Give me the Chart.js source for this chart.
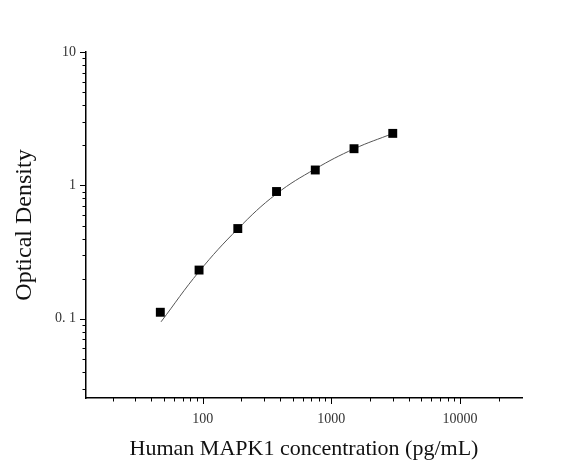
<!DOCTYPE html>
<html>
<head>
<meta charset="utf-8">
<script src="https://cdn.jsdelivr.net/npm/chart.js@4/dist/chart.umd.min.js"></script>
<style>
  html, body { margin: 0; padding: 0; background: #fff; }
  #wrap { width: 578px; height: 468px; }
</style>
</head>
<body>
<div id="wrap"><canvas id="curva"></canvas></div>
<script>
// Data standar
const concentrations = [46.875, 93.75, 187.5, 375, 750, 1500, 3000];
const odValues = [0.112, 0.232, 0.475, 0.90, 1.305, 1.884, 2.455];

// Kurva hasil fit
const fitX = [47.5, 93.75, 187.5, 375, 750, 1500, 3000];
const fitY = [0.095, 0.226, 0.472, 0.865, 1.33, 1.88, 2.45];

// Tick
const xTicks = [20, 30, 40, 50, 60, 70, 80, 90, 100, 200, 300, 400, 500, 600, 700, 800, 900,
    1000, 2000, 3000, 4000, 5000, 6000, 7000, 8000, 9000, 10000, 20000];
const xMajor = [100, 1000, 10000];
const xMajorLabels = ['100', '1000', '10000'];
const yTicks = [0.03, 0.04, 0.05, 0.06, 0.07, 0.08, 0.09, 0.1, 0.2, 0.3, 0.4, 0.5, 0.6, 0.7, 0.8, 0.9,
    1, 2, 3, 4, 5, 6, 7, 8, 9, 10];
const yMajor = [0.1, 1, 10];
const yMajorLabels = ['0. 1', '1', '10'];

const serif = '"Liberation Serif", "Times New Roman", serif';

// Gambar tanda tick keluar (mayor lebih panjang)
const tickMarks = {
    id: 'tickMarks',
    afterDraw(chart) {
        const ctx = chart.ctx;
        ctx.save();
        ctx.strokeStyle = '#000';
        ctx.lineWidth = 1;
        const xs = chart.scales.x, ys = chart.scales.y;
        xTicks.forEach(v => {
            const px = Math.round(xs.getPixelForValue(v)) + 0.5;
            const len = xMajor.includes(v) ? 6 : 3.5;
            ctx.beginPath();
            ctx.moveTo(px, xs.top);
            ctx.lineTo(px, xs.top + len);
            ctx.stroke();
        });
        yTicks.forEach(v => {
            const py = Math.round(ys.getPixelForValue(v)) + 0.5;
            const len = yMajor.includes(v) ? 6 : 3.5;
            ctx.beginPath();
            ctx.moveTo(ys.right, py);
            ctx.lineTo(ys.right - len, py);
            ctx.stroke();
        });
        ctx.restore();
    }
};

new Chart(document.getElementById('curva'), {
    type: 'scatter',
    data: {
        datasets: [{
            label: 'fit',
            data: fitX.map((x, i) => ({ x: x, y: fitY[i] })),
            showLine: true,
            borderColor: '#555',
            borderWidth: 1,
            pointRadius: 0,
            tension: 0.4,
            order: 2
        }, {
            label: 'OD',
            data: concentrations.map((x, i) => ({ x: x, y: odValues[i] })),
            showLine: false,
            pointStyle: 'rect',
            pointRadius: 6.3,
            backgroundColor: '#000',
            borderColor: '#000',
            borderWidth: 0,
            order: 1
        }]
    },
    options: {
        responsive: true,
        maintainAspectRatio: false,
        animation: false,
        layout: { padding: { top: 52, right: 56, left: 0, bottom: 0 } },
        plugins: {
            legend: { display: false },
            tooltip: { enabled: false }
        },
        scales: {
            x: {
                type: 'logarithmic',
                min: 12.4,
                max: 30300,
                afterBuildTicks: scale => { scale.ticks = xTicks.map(v => ({ value: v })); },
                afterFit: scale => { scale.height = 70; },
                grid: { display: false, drawTicks: false },
                border: { display: true, color: '#000', width: 1.5 },
                ticks: {
                    autoSkip: false,
                    maxRotation: 0,
                    padding: 13,
                    color: '#333',
                    font: { family: serif, size: 14 },
                    callback: value => {
                        const i = xMajor.indexOf(value);
                        return i >= 0 ? xMajorLabels[i] : '';
                    }
                },
                title: {
                    display: true,
                    text: 'Human MAPK1 concentration (pg/mL)',
                    color: '#111',
                    font: { family: serif, size: 22 },
                    padding: { top: 0, bottom: 6 }
                }
            },
            y: {
                type: 'logarithmic',
                min: 0.0255,
                max: 10,
                afterBuildTicks: scale => { scale.ticks = yTicks.map(v => ({ value: v })); },
                afterFit: scale => { scale.width = 86; },
                grid: { display: false, drawTicks: false },
                border: { display: true, color: '#000', width: 1.5 },
                ticks: {
                    autoSkip: false,
                    padding: 10,
                    color: '#333',
                    font: { family: serif, size: 14 },
                    callback: value => {
                        const i = yMajor.indexOf(value);
                        return i >= 0 ? yMajorLabels[i] : '';
                    }
                },
                title: {
                    display: true,
                    text: 'Optical Density',
                    color: '#111',
                    font: { family: serif, size: 24 },
                    padding: { top: 10, bottom: 0 }
                }
            }
        }
    },
    plugins: [tickMarks]
});
</script>
</body>
</html>
